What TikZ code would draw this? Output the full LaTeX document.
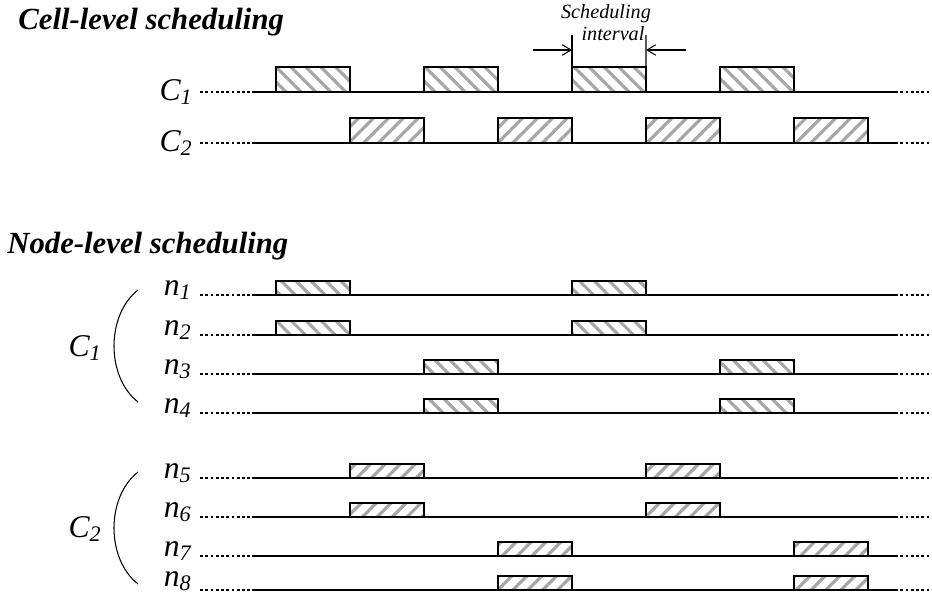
\documentclass[tikz,border=0pt]{standalone}
\usepackage{fontspec}
\setmainfont{Liberation Serif}
\usetikzlibrary{arrows.meta,patterns.meta,positioning}

\begin{document}
\begin{tikzpicture}[x=0.02cm, y=-0.02cm,
  ttl/.style={font=\fontsize{17.5}{20}\selectfont\bfseries\itshape, anchor=base west, inner sep=0pt},
  lab/.style={font=\fontsize{18}{20}\selectfont\itshape, anchor=base east, inner sep=0pt},
  note/.style={font=\fontsize{11.5}{13}\selectfont\itshape, anchor=base, inner sep=0pt},
  slot/.style={draw, line width=0.6pt, anchor=south west, minimum width=1.48cm, inner sep=0pt, outer sep=0pt},
  bigslot/.style={slot, minimum height=0.5cm},
  smallslot/.style={slot, minimum height=0.28cm},
  hatchA/.style={pattern={Lines[angle=-45, distance=6pt, line width=1.8pt]}, pattern color=black!35},
  hatchB/.style={pattern={Lines[angle=45, distance=6pt, line width=1.8pt]}, pattern color=black!35},
  tline/.style={line width=1.1pt},
  dline/.style={line width=1.1pt, dash pattern=on 1.6pt off 1.4pt},
  brace/.style={line width=0.6pt}
]
\useasboundingbox (0,0) rectangle (932,596);

% cell-level part
\node[ttl] (celltitle) at (18,29) {Cell-level scheduling};

\foreach \r/\y in {c1/92, c2/143, n1/295, n2/335, n3/374, n4/413, n5/478, n6/517, n7/556, n8/590} {
  \coordinate (\r a) at (200,\y);
  \coordinate (\r b) at (252,\y);
  \coordinate (\r c) at (895,\y);
  \coordinate (\r d) at (932,\y);
  \draw[dline] (\r a) -- (\r b);
  \draw[tline] (\r b) -- (\r c);
  \draw[dline] (\r c) -- (\r d);
}

\node[lab] (lc1) at (193,100) {C\textsubscript{1}};
\node[lab] (lc2) at (193,151) {C\textsubscript{2}};

\foreach \x [count=\i] in {276,424,572,720}
  \node[bigslot, hatchA] (ca\i) at (\x,92) {};
\foreach \x [count=\i] in {350,498,646,794}
  \node[bigslot, hatchB] (cb\i) at (\x,143) {};

% scheduling interval marker
\node[note] (sched) at (606,18) {Scheduling};
\node[note] (intv) at (613,40) {interval};
\coordinate (tickl) at (572,35);
\coordinate (tickr) at (646,35);
\coordinate (arrl) at (533,50);
\coordinate (arrr) at (686,50);
\draw[line width=0.6pt] (tickl) -- (ca3.north west);
\draw[line width=0.6pt] (tickr) -- (ca3.north east);
\draw[line width=0.6pt, -{Straight Barb[length=5pt,width=6pt]}] (arrl) -- (tickl |- arrl);
\draw[line width=0.6pt, -{Straight Barb[length=5pt,width=6pt]}] (arrr) -- (tickr |- arrr);

% node-level part
\node[ttl] (nodetitle) at (7,253) {Node-level scheduling};

\foreach \r/\k/\dy in {n1/1/0, n2/2/0, n3/3/0, n4/4/0, n5/5/0, n6/6/0, n7/7/0, n8/8/0.08}
  \node[lab] (l\r) at ([xshift=-1.2cm, yshift=\dy cm]\r b) {n\textsubscript{\k}};

\foreach \r in {n1,n2} {
  \node[smallslot, hatchA] (\r s1) at (276,0 |- \r b) {};
  \node[smallslot, hatchA] (\r s2) at (572,0 |- \r b) {};
}
\foreach \r in {n3,n4} {
  \node[smallslot, hatchA] (\r s1) at (424,0 |- \r b) {};
  \node[smallslot, hatchA] (\r s2) at (720,0 |- \r b) {};
}
\foreach \r in {n5,n6} {
  \node[smallslot, hatchB] (\r s1) at (350,0 |- \r b) {};
  \node[smallslot, hatchB] (\r s2) at (646,0 |- \r b) {};
}
\foreach \r in {n7,n8} {
  \node[smallslot, hatchB] (\r s1) at (498,0 |- \r b) {};
  \node[smallslot, hatchB] (\r s2) at (794,0 |- \r b) {};
}

% cell groups
\coordinate (g1t) at (138,290);
\coordinate (g1b) at (138,402);
\coordinate (g2t) at (138,472);
\coordinate (g2b) at (138,584);
\draw[brace] (g1t) .. controls (106,315) and (106,377) .. (g1b);
\draw[brace] (g2t) .. controls (106,497) and (106,559) .. (g2b);
\node[lab] (gc1) at (102,356) {C\textsubscript{1}};
\node[lab] (gc2) at (102,537) {C\textsubscript{2}};

\end{tikzpicture}
\end{document}
